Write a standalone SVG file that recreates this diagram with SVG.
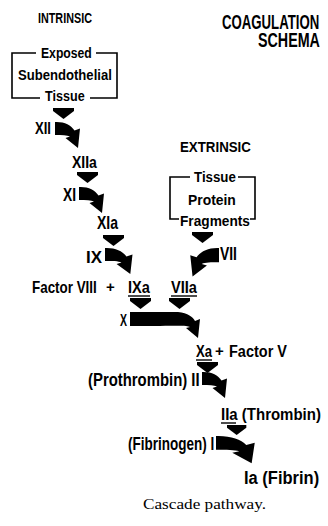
<svg xmlns="http://www.w3.org/2000/svg" xmlns:xlink="http://www.w3.org/1999/xlink" width="328" height="526" viewBox="0 0 328 526">
<style>
.t{font-family:"Liberation Sans",Arial,sans-serif;font-weight:bold;fill:#000}
.cap{font-family:"Liberation Serif","Times New Roman",serif;font-size:15.5px;fill:#000}
.br{fill:none;stroke:#000;stroke-width:1.6}
.ul{stroke:#000;stroke-width:1.4}
</style>
<defs>
<path id="sw" d="M0,0 C9,-0.5 16,3 19.5,8.5 L25,6.5 L23,26 L10.5,16 L15,14.5 C12,13 7,13 0,13 Z"/>
<path id="dn" d="M0,0 L21,0 L21,3 L10.5,11 L0,3 Z"/>
</defs>
<rect width="328" height="526" fill="#fff"/>

<g id="title">
<text class="t" x="222" y="29" font-size="13.2" transform="matrix(1,0,0,1.48,0,-13.92)">COAGULATION</text>
<text class="t" x="258" y="47" font-size="14.3" transform="matrix(1,0,0,1.37,0,-17.39)">SCHEMA</text>
</g>

<g id="intrinsic">
<text class="t" x="38" y="23" font-size="10.8" transform="matrix(1,0,0,1.29,0,-6.67)">INTRINSIC</text>
</g>

<g id="exposed">
<path class="br" d="M36,53 H12 V98 H40 M96,53 H117 V98 H90"/>
<text class="t" x="41" y="58" font-size="12.2" transform="matrix(1,0,0,1.26,0,-15.08)">Exposed</text>
<text class="t" x="18" y="80" font-size="13.1" transform="matrix(1,0,0,1.17,0,-13.6)">Subendothelial</text>
<text class="t" x="45" y="101" font-size="12.6" transform="matrix(1,0,0,1.22,0,-22.22)">Tissue</text>
</g>

<g id="extrinsic">
<text class="t" x="180" y="152" font-size="13.3" transform="matrix(1,0,0,1.05,0,-7.6)">EXTRINSIC</text>
</g>

<g id="tpf">
<path class="br" d="M190,177 H170 V219 H179 M238,177 H255 V219 H250"/>
<text class="t" x="194" y="182" font-size="13.3" transform="matrix(1,0,0,1.16,0,-29.12)">Tissue</text>
<text class="t" x="188" y="205" font-size="13.9" transform="matrix(1,0,0,1.1,0,-20.5)">Protein</text>
<text class="t" x="180" y="226" font-size="13.7" transform="matrix(1,0,0,1.12,0,-27.12)">Fragments</text>
</g>

<g id="XII"><text class="t" x="35" y="134" font-size="13.1" transform="matrix(1,0,0,1.33,0,-44.22)">XII</text></g>
<g id="XIIa"><text class="t" x="72" y="168" font-size="14" transform="matrix(1,0,0,1.24,0,-40.32)">XIIa</text></g>
<g id="XI"><text class="t" x="63" y="201" font-size="13.8" transform="matrix(1,0,0,1.27,0,-54.27)">XI</text></g>
<g id="XIa"><text class="t" x="97" y="229" font-size="14" transform="matrix(1,0,0,1.25,0,-57.25)">XIa</text></g>
<g id="IX"><text class="t" x="86" y="263" font-size="16.9" transform="matrix(1,0,0,1.03,0,-7.89)">IX</text></g>
<g id="VII"><text class="t" x="220" y="260" font-size="13.9" transform="matrix(1,0,0,1.26,0,-67.6)">VII</text></g>
<g id="FVIII_IXa">
<text class="t" x="32" y="293" font-size="13.4" transform="matrix(1,0,0,1.3,0,-87.9)">Factor VIII</text>
<text class="t" x="106" y="292" font-size="15">+</text>
<text class="t" x="128" y="293" font-size="14.6" transform="matrix(1,0,0,1.19,0,-55.67)">IXa</text>
<line class="ul" x1="128" y1="296" x2="150" y2="296"/>
</g>
<g id="VIIa">
<text class="t" x="171" y="293" font-size="14.6" transform="matrix(1,0,0,1.19,0,-55.67)">VIIa</text>
<line class="ul" x1="171" y1="296" x2="197" y2="296"/>
</g>
<g id="X"><text class="t" x="120" y="326" font-size="10.5" transform="matrix(1,0,0,1.66,0,-215.16)">X</text></g>
<g id="Xa_FV">
<text class="t" x="196" y="357" font-size="13.1" transform="matrix(1,0,0,1.33,0,-117.81)">Xa</text>
<line class="ul" x1="196" y1="360" x2="212" y2="360"/>
<text class="t" x="215" y="356" font-size="15">+</text>
<text class="t" x="229" y="357" font-size="14.5" transform="matrix(1,0,0,1.2,0,-71.4)">Factor V</text>
</g>
<g id="II"><text class="t" x="88" y="386" font-size="14.9" transform="matrix(1,0,0,1.17,0,-65.62)">(Prothrombin) II</text></g>
<g id="IIa">
<text class="t" x="221" y="420" font-size="15" transform="matrix(1,0,0,1.16,0,-67.2)">IIa (Thrombin)</text>
<line class="ul" x1="221" y1="423" x2="236" y2="423"/>
</g>
<g id="I"><text class="t" x="128" y="450" font-size="13.5" transform="matrix(1,0,0,1.3,0,-135)">(Fibrinogen) I</text></g>
<g id="Ia"><text class="t" x="244" y="484" font-size="16.5" transform="matrix(1,0,0,1.06,0,-29.04)">Ia (Fibrin)</text></g>

<g id="connectors">
<use xlink:href="#dn" transform="translate(53,108)"/>
<use xlink:href="#dn" transform="translate(77,172)"/>
<use xlink:href="#dn" transform="translate(103,235)"/>
<use xlink:href="#dn" transform="translate(192,232)"/>
<use xlink:href="#dn" transform="translate(130,298)"/>
<use xlink:href="#dn" transform="translate(169,298)"/>
<use xlink:href="#dn" transform="translate(197,362)"/>
<use xlink:href="#dn" transform="translate(227,425) scale(0.92,0.9)"/>
<use xlink:href="#sw" transform="translate(55,122)"/>
<use xlink:href="#sw" transform="translate(79,187)"/>
<use xlink:href="#sw" transform="translate(105,248) scale(1.1,1)"/>
<use xlink:href="#sw" transform="translate(219,248) scale(-1.15,1.1)"/>
<path d="M130,312 L178,312 C188,313 193,317 195,321 L200,319 L198,338 L186,328 L190,327 C186,325 180,326 130,326 Z"/>
<use xlink:href="#sw" transform="translate(202,372)"/>
<use xlink:href="#sw" transform="translate(216,436) scale(1.55,1.05)"/>
</g>

<g id="caption">
<text class="cap" x="143" y="509" textLength="123" lengthAdjust="spacingAndGlyphs">Cascade pathway.</text>
</g>
</svg>
